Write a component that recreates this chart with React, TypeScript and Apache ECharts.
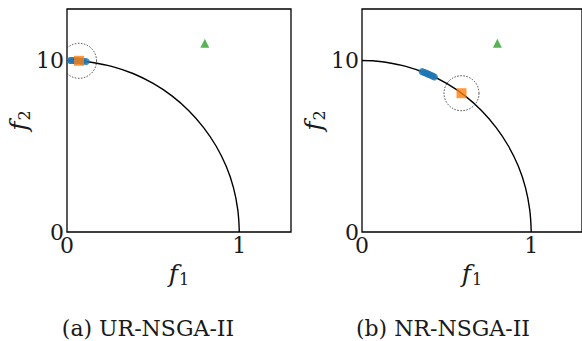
import React, { useEffect, useRef } from "react";
import * as echarts from "echarts";

// True Pareto front (quarter ellipse from (0,10) to (1,0)), sampled points
const frontF1 = [0, 0.065, 0.131, 0.259, 0.383, 0.5, 0.609, 0.707, 0.793, 0.866, 0.924, 0.966, 0.991, 1];
const frontF2 = [10, 9.979, 9.914, 9.659, 9.239, 8.66, 7.934, 7.071, 6.088, 5.0, 3.827, 2.588, 1.305, 0];

// UR-NSGA-II final population
const urF1 = [0.018, 0.026, 0.037, 0.045, 0.058, 0.066, 0.079, 0.088, 0.097, 0.112];
const urF2 = [9.998, 9.997, 9.993, 9.99, 9.983, 9.978, 9.969, 9.961, 9.953, 9.937];
const urPick = [0.07, 9.98];

// NR-NSGA-II final population
const nrF1 = [0.355, 0.365, 0.372, 0.38, 0.388, 0.396, 0.404, 0.413, 0.42, 0.428];
const nrF2 = [9.349, 9.31, 9.282, 9.25, 9.217, 9.183, 9.148, 9.107, 9.075, 9.038];
const nrPick = [0.588, 8.09];

// Reference point
const refPoint = [0.8, 11];

const captions = ["(a) UR-NSGA-II", "(b) NR-NSGA-II"];

const zip = (a: number[], b: number[]) => a.map((v, i) => [v, b[i]]);

const SERIF = "DejaVu Serif, serif";
const INK = "#1a1a1a";

const panels = [
  { left: 67, pop: zip(urF1, urF2), pick: urPick, captionX: 148 },
  { left: 362, pop: zip(nrF1, nrF2), pick: nrPick, captionX: 443 },
];

const nameRich = {
  i: { fontFamily: SERIF, fontStyle: "italic", fontSize: 25, color: INK },
  s: { fontFamily: SERIF, fontSize: 16, color: INK, padding: [12, 0, 0, 1] },
};

export default function App() {
  const ref = useRef<HTMLDivElement>(null);

  useEffect(() => {
    if (!ref.current) return;
    const chart = echarts.init(ref.current, null, { renderer: "svg" });

    const grids = panels.map((p) => ({
      left: p.left,
      top: 9,
      width: 224,
      height: 223,
      show: true,
      borderColor: "#000",
      borderWidth: 1.3,
      backgroundColor: "transparent",
    }));

    const xAxes = panels.map((_, i) => ({
      type: "value",
      gridIndex: i,
      min: 0,
      max: 1.3,
      interval: 1,
      axisLine: { show: false },
      axisTick: { show: false },
      splitLine: { show: false },
      axisLabel: {
        fontFamily: SERIF,
        fontSize: 22,
        color: INK,
        margin: 2,
        showMaxLabel: false,
      },
      name: "{i|f}{s|1}",
      nameLocation: "middle",
      nameGap: 24,
      nameTextStyle: { rich: nameRich },
    }));

    const yAxes = panels.map((_, i) => ({
      type: "value",
      gridIndex: i,
      min: 0,
      max: 13,
      interval: 10,
      axisLine: { show: false },
      axisTick: { show: false },
      splitLine: { show: false },
      axisLabel: {
        fontFamily: SERIF,
        fontSize: 22,
        color: INK,
        margin: 3,
        showMaxLabel: false,
      },
      name: "{i|f}{s|2}",
      nameLocation: "middle",
      nameGap: 28,
      nameTextStyle: { rich: nameRich },
    }));

    const series: any[] = [];
    panels.forEach((p, i) => {
      series.push({
        type: "line",
        xAxisIndex: i,
        yAxisIndex: i,
        data: zip(frontF1, frontF2),
        smooth: 0.4,
        showSymbol: false,
        lineStyle: { color: "#000", width: 1.4 },
        z: 1,
      });
      series.push({
        type: "scatter",
        xAxisIndex: i,
        yAxisIndex: i,
        data: p.pop,
        symbol: "circle",
        symbolSize: 7,
        itemStyle: { color: "#1f77b4" },
        z: 2,
      });
      series.push({
        type: "scatter",
        xAxisIndex: i,
        yAxisIndex: i,
        data: [p.pick],
        symbol: "rect",
        symbolSize: 10,
        itemStyle: { color: "#ff7f0e" },
        z: 3,
      });
      series.push({
        type: "scatter",
        xAxisIndex: i,
        yAxisIndex: i,
        data: [refPoint],
        symbol: "triangle",
        symbolSize: 9,
        itemStyle: { color: "#2ca02c" },
        z: 3,
      });
      series.push({
        type: "custom",
        xAxisIndex: i,
        yAxisIndex: i,
        data: [p.pick],
        clip: true,
        z: 4,
        renderItem: (_params: any, api: any) => {
          const c = api.coord([api.value(0), api.value(1)]);
          return {
            type: "circle",
            shape: { cx: c[0], cy: c[1], r: 17.5 },
            style: { fill: "none", stroke: "#333", lineWidth: 0.9, lineDash: [1.5, 1.5] },
          };
        },
      });
    });

    chart.setOption({
      animation: false,
      backgroundColor: "#fff",
      grid: grids,
      xAxis: xAxes,
      yAxis: yAxes,
      series,
      graphic: panels.map((p, i) => ({
        type: "text",
        x: p.captionX,
        y: 328,
        style: {
          text: captions[i],
          fontFamily: SERIF,
          fontSize: 22,
          fill: INK,
          align: "center",
          verticalAlign: "middle",
        },
      })),
    });

    return () => chart.dispose();
  }, []);

  return (
    <div
      ref={ref}
      style={{ position: "absolute", left: 0, top: 0, width: 582, height: 341 }}
    />
  );
}
